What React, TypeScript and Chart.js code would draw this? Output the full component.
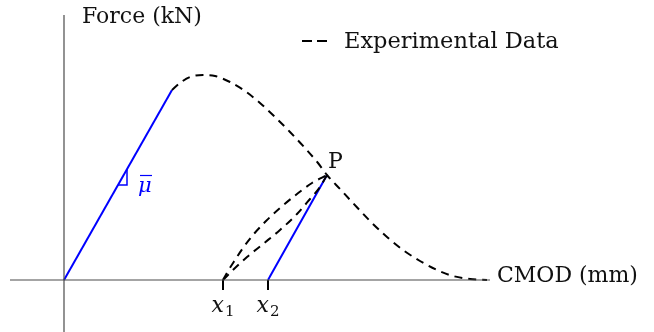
import React, { useEffect, useRef } from "react";
import { Chart, registerables } from "chart.js";

Chart.register(...registerables);

// CMOD (mm) / Force (kN) values of the schematic
const experimentalCmod = [2.7, 2.9, 3.15, 3.475, 3.775, 4.15, 4.525, 4.9, 5.275, 5.65, 6.025, 6.35, 6.575, 6.9, 7.225, 7.65, 8.075, 8.475, 8.9, 9.325, 9.725, 10.15, 10.575];
const experimentalForce = [4.75, 4.925, 5.075, 5.125, 5.1, 4.95, 4.725, 4.425, 4.075, 3.7, 3.3, 2.925, 2.625, 2.275, 1.925, 1.475, 1.075, 0.75, 0.475, 0.25, 0.1, 0.025, 0.0];

// Elastic loading branch with slope mu-bar
const elasticCmod = [0, 2.7];
const elasticForce = [0, 4.75];

// Point P on the softening branch
const pointP = { x: 6.575, y: 2.625 };

// Residual openings after unloading
const x1Value = 3.975;
const x2Value = 5.1;

// Unloading / reloading loops between x1 and P
const upperLoopCmod = [x1Value, 4.1, 4.275, 4.475, 4.725, 5.05, 5.4, 5.825, 6.2, pointP.x];
const upperLoopForce = [0, 0.225, 0.5, 0.8, 1.125, 1.475, 1.8, 2.15, 2.425, pointP.y];
const lowerLoopCmod = [x1Value, 4.275, 4.575, 4.975, 5.4, 5.825, 6.15, 6.4, pointP.x];
const lowerLoopForce = [0, 0.3, 0.575, 0.9, 1.25, 1.65, 2.025, 2.325, pointP.y];

// Secant reloading line from x2 to P
const secantCmod = [x2Value, pointP.x];
const secantForce = [0, pointP.y];

// Slope marker on the elastic branch
const slopeMarkCmod = [1.35, 1.575, 1.575];
const slopeMarkForce = [2.375, 2.375, 2.77];

// Axis extents
const xAxisCmod = [-1.35, 10.65];
const yAxisForce = [-1.3, 6.625];
const tickDepth = 0.25;

const zip = (xs: number[], ys: number[]) => xs.map((x, i) => ({ x, y: ys[i] }));

const SERIF = '"DejaVu Serif", serif';
const BLUE = "#0000ff";

const annotations = {
  id: "annotations",
  afterDatasetsDraw(chart: any) {
    const { ctx, scales } = chart;
    const sx = scales.x;
    const sy = scales.y;
    ctx.save();
    ctx.fillStyle = "#111";
    ctx.textBaseline = "alphabetic";

    // Axis titles
    ctx.font = `22px ${SERIF}`;
    ctx.textAlign = "left";
    ctx.fillText("Force (kN)", 82, 23);
    ctx.fillText("CMOD (mm)", 497, 282);

    // Legend
    ctx.strokeStyle = "#000";
    ctx.lineWidth = 2;
    ctx.setLineDash([10, 5]);
    ctx.beginPath();
    ctx.moveTo(302, 41);
    ctx.lineTo(327, 41);
    ctx.stroke();
    ctx.setLineDash([]);
    ctx.font = `22.5px ${SERIF}`;
    ctx.fillText("Experimental Data", 344, 48);
    ctx.font = `22px ${SERIF}`;

    // Point label
    const px = sx.getPixelForValue(pointP.x);
    const py = sy.getPixelForValue(pointP.y);
    ctx.fillText("P", px + 1, py - 7);

    // Residual opening labels x1, x2
    const drawSub = (sub: string, value: number) => {
      const cx = sx.getPixelForValue(value);
      ctx.font = `italic 22px ${SERIF}`;
      const wMain = ctx.measureText("x").width;
      ctx.font = `15px ${SERIF}`;
      const wSub = ctx.measureText(sub).width;
      const left = cx - (wMain + wSub + 1) / 2;
      ctx.font = `italic 22px ${SERIF}`;
      ctx.textAlign = "left";
      ctx.fillText("x", left, 312);
      ctx.font = `15px ${SERIF}`;
      ctx.fillText(sub, left + wMain + 1, 316);
    };
    drawSub("1", x1Value);
    drawSub("2", x2Value);

    // Slope symbol mu-bar
    ctx.fillStyle = BLUE;
    ctx.strokeStyle = BLUE;
    ctx.font = `italic 21px ${SERIF}`;
    ctx.textAlign = "left";
    ctx.fillText("\u03bc", 138, 192);
    ctx.lineWidth = 1.2;
    ctx.beginPath();
    ctx.moveTo(140, 175.5);
    ctx.lineTo(152, 175.5);
    ctx.stroke();

    ctx.restore();
  },
};

export default function App() {
  const canvasRef = useRef<HTMLCanvasElement | null>(null);

  useEffect(() => {
    if (!canvasRef.current) return;
    const dashed = {
      borderColor: "#000",
      borderWidth: 2,
      borderDash: [8, 6],
      pointRadius: 0,
      fill: false,
      cubicInterpolationMode: "monotone",
    };
    const chart = new Chart(canvasRef.current, {
      type: "line",
      data: {
        datasets: [
          { label: "x-axis", data: zip(xAxisCmod, [0, 0]), borderColor: "#4a4a4a", borderWidth: 1.2, pointRadius: 0 },
          { label: "y-axis", data: zip([0, 0], yAxisForce), borderColor: "#4a4a4a", borderWidth: 1.2, pointRadius: 0 },
          { label: "tick x1", data: zip([x1Value, x1Value], [0, -tickDepth]), borderColor: "#000", borderWidth: 2, pointRadius: 0 },
          { label: "tick x2", data: zip([x2Value, x2Value], [0, -tickDepth]), borderColor: "#000", borderWidth: 2, pointRadius: 0 },
          { label: "Experimental Data", data: zip(experimentalCmod, experimentalForce), ...dashed },
          { label: "Unloading", data: zip(upperLoopCmod, upperLoopForce), ...dashed },
          { label: "Reloading", data: zip(lowerLoopCmod, lowerLoopForce), ...dashed },
          { label: "Elastic", data: zip(elasticCmod, elasticForce), borderColor: BLUE, borderWidth: 2, pointRadius: 0 },
          { label: "Secant", data: zip(secantCmod, secantForce), borderColor: BLUE, borderWidth: 2, pointRadius: 0 },
          { label: "Slope", data: zip(slopeMarkCmod, slopeMarkForce), borderColor: BLUE, borderWidth: 1.5, pointRadius: 0 },
        ],
      },
      options: {
        animation: false,
        responsive: false,
        devicePixelRatio: 1,
        layout: { padding: 0 },
        parsing: false as any,
        scales: {
          x: { type: "linear", min: -1.6, max: 14.75, display: false },
          y: { type: "linear", min: -1.3, max: 7.0, display: false },
        },
        plugins: {
          legend: { display: false },
          tooltip: { enabled: false },
        },
        elements: { line: { borderCapStyle: "butt" } },
      } as any,
      plugins: [annotations],
    });
    return () => chart.destroy();
  }, []);

  return (
    <div style={{ position: "fixed", left: 0, top: 0, width: 654, height: 332, background: "#fff" }}>
      <canvas ref={canvasRef} width={654} height={332} />
    </div>
  );
}
